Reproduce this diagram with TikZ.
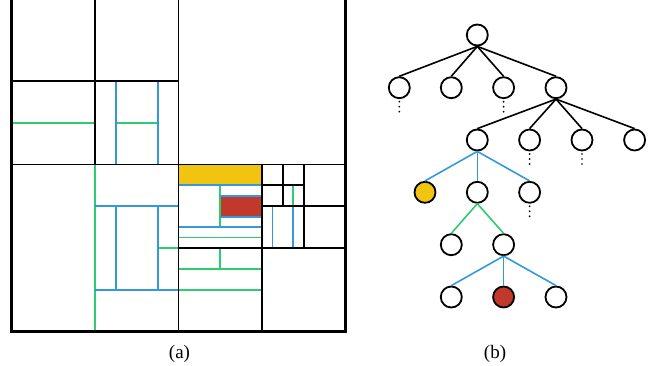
\documentclass[tikz,border=0pt]{standalone}
\usepackage{fontspec}
\setmainfont{Liberation Serif}
\definecolor{fblue}{HTML}{3498DB}
\definecolor{fgreen}{HTML}{2ECC71}
\definecolor{fyellow}{HTML}{F1C40F}
\definecolor{fred}{HTML}{C0392B}
\tikzset{
  blk/.style={draw=black, line width=1.8pt},
  bl/.style={draw=fblue, line width=1.8pt},
  gr/.style={draw=fgreen, line width=1.8pt},
  tn/.style={circle, draw=black, line width=1.8pt, fill=white, minimum size=21pt, inner sep=0pt},
  te/.style={line width=1.6pt},
  lab/.style={font=\fontsize{19}{21}\selectfont, inner sep=0pt}
}
\newcommand{\vdotsbelow}[1]{%
  \fill ([yshift=-14pt]#1.center) circle (0.95pt);
  \fill ([yshift=-19pt]#1.center) circle (0.95pt);
  \fill ([yshift=-24pt]#1.center) circle (0.95pt);}
\begin{document}
\begin{tikzpicture}[x=1pt, y=-1pt]
\useasboundingbox (0,0) rectangle (660,366);
% ---------- (a) partition ----------
\begin{scope}[shift={(11.5,-2.5)}, x=83.5pt, y=-83.5pt]
  % fills
  \fill[fyellow] (2,2) rectangle (3,2.25);
  \fill[fred] (2.5,2.375) rectangle (3,2.625);
  % green lines
  \draw[gr] (0,1.5) -- (1,1.5);
  \draw[gr] (1.25,1.5) -- (1.75,1.5);
  \draw[gr] (1,2) -- (1,4);
  \draw[gr] (1.75,3) -- (2,3);
  \draw[gr] (2.5,2.25) -- (2.5,2.75);
  \draw[gr] (2,2.875) -- (3,2.875);
  \draw[gr] (3.375,2.25) -- (3.375,2.5);
  \draw[gr] (2.5,3) -- (2.5,3.25);
  \draw[gr] (2,3.25) -- (3,3.25);
  \draw[gr] (2,3.5) -- (3,3.5);
  % blue lines
  \draw[bl] (1.25,1) -- (1.25,2);
  \draw[bl] (1.75,1) -- (1.75,2);
  \draw[bl] (1,2.5) -- (2,2.5);
  \draw[bl] (1,3.5) -- (2,3.5);
  \draw[bl] (1.25,2.5) -- (1.25,3.5);
  \draw[bl] (1.75,2.5) -- (1.75,3.5);
  \draw[bl] (2,2.25) -- (3,2.25);
  \draw[bl] (2,2.75) -- (3,2.75);
  \draw[bl] (2.5,2.375) -- (3,2.375);
  \draw[bl] (2.5,2.625) -- (3,2.625);
  \draw[bl] (3.125,2.5) -- (3.125,3);
  \draw[bl] (3.375,2.5) -- (3.375,3);
  % black lines
  \draw[blk] (2,0) -- (2,4);
  \draw[blk] (0,2) -- (4,2);
  \draw[blk] (1,0) -- (1,2);
  \draw[blk] (0,1) -- (2,1);
  \draw[blk] (3,2) -- (3,4);
  \draw[blk] (2,3) -- (4,3);
  \draw[blk] (3.5,2) -- (3.5,3);
  \draw[blk] (3,2.5) -- (4,2.5);
  \draw[blk] (3.25,2) -- (3.25,2.5);
  \draw[blk] (3,2.25) -- (3.5,2.25);
  \draw[draw=black, line width=3.5pt] (0,0) rectangle (4,4);
\end{scope}
\node[lab] (la) at (179.5,353.5) {(a)};
% ---------- (b) tree ----------
\node[tn] (r) at (477.3,35) {};
\node[tn] (a1) at (399.3,87.7) {};
\node[tn] (a2) at (451.3,87.7) {};
\node[tn] (a3) at (503.6,87.7) {};
\node[tn] (a4) at (556,87.7) {};
\node[tn] (b1) at (477.3,140) {};
\node[tn] (b2) at (529.6,140) {};
\node[tn] (b3) at (582,140) {};
\node[tn] (b4) at (634.6,140) {};
\node[tn, fill=fyellow] (c1) at (425,192.3) {};
\node[tn] (c2) at (477.3,192.3) {};
\node[tn] (c3) at (529.6,192.3) {};
\node[tn] (d1) at (451.3,244.7) {};
\node[tn] (d2) at (503.6,244.7) {};
\node[tn] (e1) at (451.3,297) {};
\node[tn, fill=fred] (e2) at (503.6,297) {};
\node[tn] (e3) at (556,297) {};
\foreach \c in {a1,a2,a3,a4} \draw[te] (r.south) -- (\c.north);
\foreach \c in {b1,b2,b3,b4} \draw[te] (a4.south) -- (\c.north);
\foreach \c in {c1,c2,c3} \draw[te, fblue] (b1.south) -- (\c.north);
\foreach \c in {d1,d2} \draw[te, fgreen] (c2.south) -- (\c.north);
\foreach \c in {e1,e2,e3} \draw[te, fblue] (d2.south) -- (\c.north);
\vdotsbelow{a1}
\vdotsbelow{a3}
\vdotsbelow{b2}
\vdotsbelow{b3}
\vdotsbelow{c3}
\node[lab] (lb) at (495,353.5) {(b)};
\end{tikzpicture}
\end{document}
